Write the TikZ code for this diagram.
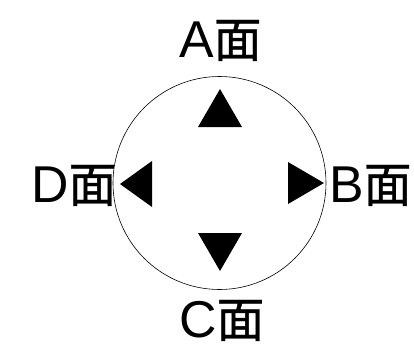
\documentclass[tikz,border=0pt]{standalone}
\usepackage{fontspec}
\setmainfont{Liberation Sans}
\newfontfamily\cjk[FakeBold=0.8]{Noto Sans CJK SC}
\begin{document}
\begin{tikzpicture}[x=1bp,y=-1bp,
  lbl/.style={inner sep=0pt,anchor=base west,font=\fontsize{52}{58}\selectfont},
  tri/.style={fill=black}]
\useasboundingbox (0,0) rectangle (414,348);
\draw[line width=0.6bp] (219.5,183) circle (106.5bp);
\fill[tri] (220,89) -- (242,127) -- (198,127) -- cycle;
\fill[tri] (198,233) -- (242,233) -- (220,271) -- cycle;
\fill[tri] (120,184) -- (152,161) -- (152,207) -- cycle;
\fill[tri] (324,183) -- (288,162) -- (288,204) -- cycle;
\node[lbl] (a) at (179,57) {A{\cjk\fontsize{48}{54}\selectfont 面}};
\node[lbl] (d) at (31,202) {D{\cjk\fontsize{48}{54}\selectfont 面}};
\node[lbl] (b) at (329,202) {B{\cjk\fontsize{48}{54}\selectfont 面}};
\node[lbl] (c) at (179,337) {C{\cjk\fontsize{48}{54}\selectfont 面}};
\end{tikzpicture}
\end{document}
